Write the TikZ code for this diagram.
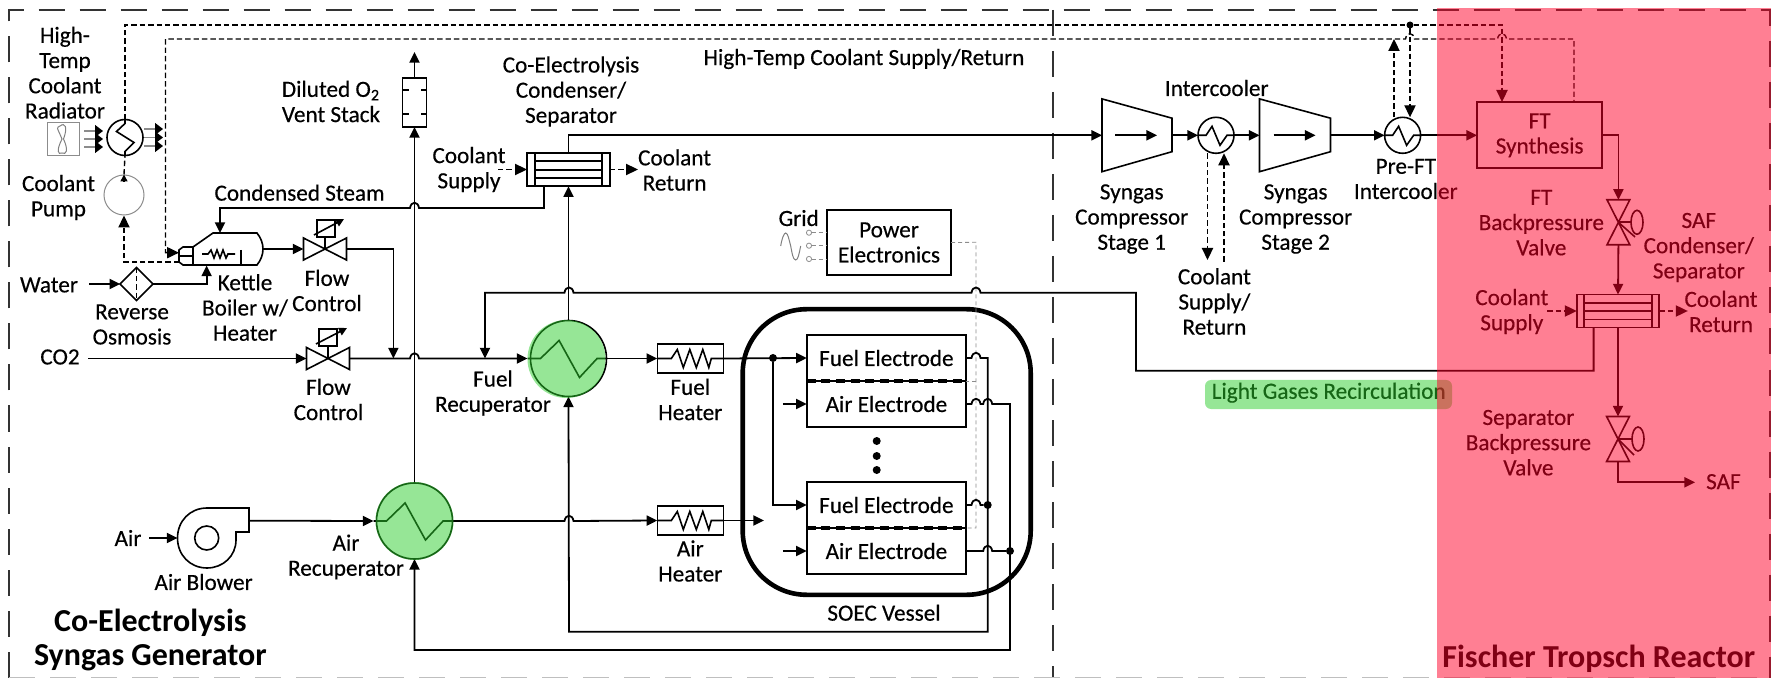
\documentclass[tikz,border=0pt]{standalone}
\usepackage{fontspec}
\setmainfont{Carlito}[UprightFeatures={RawFeature={embolden=0.4}}]
\usetikzlibrary{arrows.meta,calc,shapes.geometric}

\definecolor{ftred}{RGB}{255,0,40}
\definecolor{glowgreen}{RGB}{45,205,45}

% Bridge of a horizontal line over a crossing line
\def\hop#1#2{-- ({#1-4.5},#2) .. controls ({#1-3.5},{#2-7}) and ({#1+3.5},{#2-7}) .. ({#1+4.5},#2)}

\begin{document}
\begin{tikzpicture}[
    x=0.5pt, y=-0.5pt,
    % Define line styles
    pipe/.style={line width=0.9pt},
    flow/.style={->, >={Triangle[length=5.3pt,width=5pt]}, line width=0.9pt},
    cool/.style={line width=0.7pt, dash pattern=on 2.7pt off 1.5pt},
    coolflow/.style={->, >={Triangle[length=6pt,width=5.6pt]}, line width=0.7pt, dash pattern=on 2.7pt off 1.5pt},
    ctrl/.style={draw=black!45, line width=0.4pt, dash pattern=on 2pt off 1.5pt},
    fanflow/.style={-{Triangle[length=4pt,width=6pt,black]}, draw=black!45, line width=0.6pt},
    part/.style={line width=0.8pt},
    membrane/.style={line width=1.8pt, dash pattern=on 4.5pt off 2.8pt},
    frame/.style={draw=black!80, line width=0.8pt, dash pattern=on 13pt off 7.5pt},
    % Define node styles
    lbl/.style={align=center, inner sep=0pt, font=\fontsize{11.6}{12.6}\selectfont},
    title/.style={align=center, inner sep=0pt, font=\fontsize{16}{17.3}\selectfont\bfseries},
    boxnode/.style={draw, rectangle, line width=0.8pt, inner sep=0pt, outer sep=0pt, align=center, font=\fontsize{11.6}{12.6}\selectfont},
    hold/.style={rectangle, inner sep=0pt, outer sep=0pt},
    recup/.style={draw, circle, line width=0.8pt, minimum size=38pt, inner sep=0pt, outer sep=0pt},
    hxsmall/.style={draw, circle, line width=0.8pt, minimum size=18pt, inner sep=0pt, outer sep=0pt},
    glow/.style={circle, fill=glowgreen, opacity=0.5, minimum size=39pt, inner sep=0pt},
    joint/.style={circle, fill=black, minimum size=4pt, inner sep=0pt, outer sep=0pt},
    terminal/.style={draw=black!45, circle, line width=0.4pt, minimum size=2.6pt, inner sep=0pt, outer sep=0pt}
]
\useasboundingbox (0,0) rectangle (1771,678);

% Dashed zone frames
\draw[frame] (9,677.5) -- (9,10) -- (1770,10) -- (1770,677.5);
\draw[frame, draw=black!25] (9,677.5) -- (1770,677.5);
\draw[frame] (1053,10) -- (1053,677);

% Exchangers and rotating parts
\node[recup] (fuelrec) at (568.5,358.5) {};
\node[recup] (airrec) at (414.5,521) {};
\node[hxsmall] (radcool) at (125,137.5) {};
\node[hxsmall] (intercool) at (1216,135.3) {};
\node[hxsmall] (preft) at (1402.6,135.3) {};
\node[draw=black!45, circle, line width=0.5pt, minimum size=20pt, inner sep=0pt] (pump) at (124,195) {};
\node[draw=black!45, rectangle, line width=0.5pt, minimum width=16pt, minimum height=16.5pt, inner sep=0pt] (fan) at (63,139) {};
\node[draw, diamond, aspect=1, line width=0.8pt, minimum size=16.5pt, inner sep=0pt, outer sep=0pt] (ro) at (136.6,284) {};
\node[draw, circle, line width=0.8pt, minimum size=12pt, inner sep=0pt] (blower) at (206.7,538) {};

% Boxes
\node[boxnode, minimum width=12pt, minimum height=24.5pt] (stack) at (414.5,102.5) {};
\node[boxnode, minimum width=41.5pt, minimum height=16.7pt] (cond) at (568.5,169.5) {};
\node[boxnode, minimum width=41.2pt, minimum height=16.5pt] (safcond) at (1618,311) {};
\node[boxnode, minimum width=33pt, minimum height=14.7pt] (fuelheat) at (690.3,358.5) {};
\node[boxnode, minimum width=33pt, minimum height=14.7pt] (airheat) at (690.3,520.5) {};
\node[boxnode, minimum width=62.2pt, minimum height=32.5pt] (power) at (889,242.5) {Power\\Electronics};
\node[boxnode, minimum width=62.6pt, minimum height=33pt] (ftsyn) at (1539.6,135.3) {FT\\Synthesis};
\node[boxnode, minimum width=79.6pt, minimum height=23pt] (fuela) at (886.4,358) {Fuel Electrode};
\node[boxnode, minimum width=79.6pt, minimum height=23pt] (aira) at (886.4,404) {Air Electrode};
\node[boxnode, minimum width=79.6pt, minimum height=23pt] (fuelb) at (886.4,505) {Fuel Electrode};
\node[boxnode, minimum width=79.6pt, minimum height=23pt] (airb) at (886.4,551) {Air Electrode};
\node[draw, rectangle, line width=2.3pt, rounded corners=32pt, minimum width=144pt, minimum height=142.8pt] (vessel) at (886.7,452) {};

% Bodies that only hold anchors
\node[hold, minimum width=21.5pt, minimum height=11pt] (valvea) at (325,249) {};
\node[hold, minimum width=21.5pt, minimum height=11pt] (valveb) at (328,358.5) {};
\node[hold, minimum width=11.4pt, minimum height=22.5pt] (valvec) at (1618.4,222.3) {};
\node[hold, minimum width=11.4pt, minimum height=22.5pt] (valved) at (1618,439) {};
\node[hold, minimum width=35pt, minimum height=36.4pt] (compa) at (1137,135.3) {};
\node[hold, minimum width=35.5pt, minimum height=36.4pt] (compb) at (1295,135.3) {};

% Free line ends
\coordinate (ventout) at (414.5,52);
\coordinate (steamin) at (220,233);
\coordinate (steamout) at (544,186.2);
\coordinate (boilhot) at (179,252.7);
\coordinate (boilcold) at (179,262);
\coordinate (boilwater) at (206.6,265.5);
\coordinate (boilout) at (262,249);
\coordinate (mixa) at (393.4,358.5);
\coordinate (mixb) at (485,358.5);
\coordinate (lightout) at (1593.6,327.5);
\coordinate (blowout) at (249,520.7);
\coordinate (blowin) at (177.5,538);
\coordinate (airin) at (764,520.5);
\coordinate (icdown) at (1207.5,260);
\coordinate (icup) at (1224,261.7);
\coordinate (ftup) at (1394,39);
\coordinate (ftsupply) at (1502,102);
\coordinate (ftreturn) at (1574,102);
\coordinate (safout) at (1695,482.3);
\coordinate (waterin) at (89,284);
\coordinate (co2in) at (88,358.5);
\coordinate (airfeed) at (149,538);
\coordinate (supplyain) at (498,169.5);
\coordinate (returnaout) at (638,169.5);
\coordinate (supplybin) at (1547.4,311);
\coordinate (returnbout) at (1687.8,311);
\node[joint, minimum size=3.5pt] (coolsplit) at (1410,25) {};
\node[joint] (fueltap) at (773,358) {};
\node[joint] (fueljoin) at (987.7,505) {};
\node[joint] (airjoin) at (1010,551) {};
\node[terminal] (gridtop) at (809,232.7) {};
\node[terminal] (gridmid) at (809,245.7) {};
\node[terminal] (gridlow) at (809,259) {};

% Labels
\node[lbl] (radlabel) at (65,72.7) {High-\\Temp\\Coolant\\Radiator};
\node[lbl] (pumplabel) at (58.5,197.5) {Coolant\\Pump};
\node[lbl] (water) at (49,285) {Water};
\node[lbl] (rolabel) at (132,324.5) {Reverse\\Osmosis};
\node[lbl] (kettle) at (245,307.5) {Kettle\\Boiler w/\\Heater};
\node[lbl] (flowa) at (327,290.5) {Flow\\Control};
\node[lbl] (flowb) at (328.5,399.5) {Flow\\Control};
\node[lbl] (co2) at (60,357) {CO2};
\node[lbl] (airlabel) at (128,538) {Air};
\node[lbl] (blowlabel) at (203.6,582) {Air Blower};
\node[lbl] (airreclabel) at (346,557) {Air\\Recuperator};
\node[lbl] (fuelreclabel) at (493,393) {Fuel\\Recuperator};
\node[lbl] (ventlabel) at (331,101.5) {Diluted O\textsubscript{2}\\Vent Stack};
\node[lbl] (condlabel) at (571,91.5) {Co-Electrolysis\\Condenser/\\Separator};
\node[lbl] (steamlabel) at (299.6,192.7) {Condensed Steam};
\node[lbl] (supplya) at (469,169.5) {Coolant\\Supply};
\node[lbl] (returna) at (674.6,170) {Coolant\\Return};
\node[lbl] (hotlabel) at (864,59) {High-Temp Coolant Supply/Return};
\node[lbl] (gridlabel) at (798.7,218) {Grid};
\node[lbl] (fuelheatlabel) at (690.3,399.5) {Fuel\\Heater};
\node[lbl] (airheatlabel) at (690.3,561) {Air\\Heater};
\node[lbl] (vessellabel) at (884,612.7) {SOEC Vessel};
\node[lbl] (intlabel) at (1216.7,88) {Intercooler};
\node[lbl] (stagea) at (1131.7,219) {Syngas\\Compressor\\Stage 1};
\node[lbl] (stageb) at (1295.6,219) {Syngas\\Compressor\\Stage 2};
\node[lbl] (iclabel) at (1214.4,301.5) {Coolant\\Supply/\\Return};
\node[lbl] (preftlabel) at (1405.8,179) {Pre-FT\\Intercooler};
\node[lbl] (ftvalvelabel) at (1541.3,222.7) {FT\\Backpressure\\Valve};
\node[lbl] (safcondlabel) at (1698.8,247.5) {SAF\\Condenser/\\Separator};
\node[lbl] (supplyb) at (1511.8,311.5) {Coolant\\Supply};
\node[lbl] (returnb) at (1721,311.5) {Coolant\\Return};
\node[lbl] (sepvalvelabel) at (1528.4,442.7) {Separator\\Backpressure\\Valve};
\node[lbl] (saflabel) at (1723.4,481.7) {SAF};
\node[lbl] (lightlabel) at (1328.7,392.7) {Light Gases Recirculation};
\node[title] (genlabel) at (150.4,640) {Co-Electrolysis\\Syngas Generator};
\node[title] (ftlabel) at (1598.8,658.3) {Fischer Tropsch Reactor};

% Exchanger internals
\draw[part] ([xshift=-1.5pt]airrec.west) -- +(13,0) -- +(31.6,-18) -- +(52,19) -- +(69.6,0) -- (airrec.east);
\draw[part] ([xshift=-1.5pt]fuelrec.west) -- +(13,0) -- +(31.6,-18) -- +(52,19) -- +(69.6,0) -- (fuelrec.east);
\draw[part] (intercool.west) -- +(8,0) -- +(14,-9) -- +(22,10) -- +(29,0) -- (intercool.east);
\draw[part] (preft.west) -- +(8,0) -- +(14,-9) -- +(22,10) -- +(29,0) -- (preft.east);
\draw[part] (radcool.north) -- +(0,4) -- +(-8.5,12) -- +(9,23) -- +(0,32) -- (radcool.south);
\draw[draw=black!50, line width=0.5pt] (60,126) .. controls (65,122) and (68,127) .. (63.5,139) .. controls (69,151) and (66,155) .. (62,153) .. controls (58,155) and (56,151) .. (62,139) .. controls (57,127) and (56,128) .. (60,126);

% Radiator air flow
\draw[fanflow] (84,131) -- (103,131);
\draw[fanflow] (84,139) -- (103,139);
\draw[fanflow] (84,147) -- (103,147);
\draw[fanflow] (144,129) -- (163,129);
\draw[fanflow] (144,137.5) -- (163,137.5);
\draw[fanflow] (144,146) -- (163,146);

% Kettle boiler
\draw[part] (193,247) -- (213,233) -- (257,233) .. controls (265,243) and (265,255) .. (257,265) -- (193,265) -- cycle;
\draw[part] (193,247) -- (183,247) -- (179,250) -- (179,262) -- (183,265) -- (193,265);
\draw[part] (179,256) -- (193,256);
\draw[part] (241,250) -- (241,265);
\draw[part] (202,254) -- (208,254) -- (211,250) -- (214,258) -- (217,250) -- (220,258) -- (223,250) -- (226,258) -- (228,254) -- (235,254);

% Valves
\draw[part] (valvea.north west) -- (valvea.south east) -- (valvea.north east) -- (valvea.south west) -- cycle;
\draw[part] (valveb.north west) -- (valveb.south east) -- (valveb.north east) -- (valveb.south west) -- cycle;
\draw[part] (valvec.north west) -- (valvec.south east) -- (valvec.south west) -- (valvec.north east) -- cycle;
\draw[part] (valved.north west) -- (valved.south east) -- (valved.south west) -- (valved.north east) -- cycle;
\draw[part] (valvea.center) -- (325,237);
\draw[part] (317,220) rectangle (335,237);
\draw[part, -{Triangle[length=4pt,width=4pt]}] (314,235) -- (344,219);
\draw[part] (valveb.center) -- (328,346);
\draw[part] (319,329) rectangle (337,346);
\draw[part, -{Triangle[length=4pt,width=4pt]}] (316,344) -- (347,328);
\draw[part] (valvec.center) -- (1631,222.3);
\draw[part] (valvec.center) -- (1635,237);
\draw[part] (1637,222.3) ellipse (6 and 12);
\draw[part] (valved.center) -- (1633,439);
\draw[part] (valved.center) -- (1634,455);
\draw[part] (1638,439) ellipse (6 and 12);

% Compressors
\draw[part] (compa.north west) -- ($(compa.north east)+(0,19.3)$) -- ($(compa.south east)+(0,-20)$) -- (compa.south west) -- cycle;
\draw[part] (compb.north west) -- ($(compb.north east)+(0,19.3)$) -- ($(compb.south east)+(0,-20)$) -- (compb.south west) -- cycle;
\draw[flow] ($(compa.west)+(13,0)$) -- ($(compa.east)+(-15,0)$);
\draw[flow] ($(compb.west)+(14,0)$) -- ($(compb.east)+(-15,0)$);

% Blower
\draw[part] (236,532) -- (236,540) .. controls (236,556) and (223,568) .. (207,568) .. controls (190,568) and (177.5,555) .. (177.5,538) .. controls (177.5,521) and (190,508) .. (207,508) -- (249,508) -- (249,532) -- cycle;

% Stack and condenser internals
\draw[part] (stack.north west |- 0,90) -- +(6,0);
\draw[part] (stack.north east |- 0,90) -- +(-6,0);
\draw[part] (stack.north west |- 0,114) -- +(6,0);
\draw[part] (stack.north east |- 0,114) -- +(-6,0);
\draw[part] ($(cond.north west)+(8,0)$) -- ($(cond.south west)+(8,0)$);
\draw[part] ($(cond.north east)+(-8,0)$) -- ($(cond.south east)+(-8,0)$);
\draw[part] ($(cond.north west)+(8,8.5)$) -- ($(cond.north east)+(-8,8.5)$);
\draw[part] ($(cond.north west)+(8,17.5)$) -- ($(cond.north east)+(-8,17.5)$);
\draw[part] ($(cond.north west)+(8,25)$) -- ($(cond.north east)+(-8,25)$);
\draw[part] ($(safcond.north west)+(7,0)$) -- ($(safcond.south west)+(7,0)$);
\draw[part] ($(safcond.north east)+(-7,0)$) -- ($(safcond.south east)+(-7,0)$);
\draw[part] ($(safcond.north west)+(7,8.5)$) -- ($(safcond.north east)+(-7,8.5)$);
\draw[part] ($(safcond.north west)+(7,16.5)$) -- ($(safcond.north east)+(-7,16.5)$);
\draw[part] ($(safcond.north west)+(7,25)$) -- ($(safcond.north east)+(-7,25)$);

% Heater windings
\draw[part] (fuelheat.west) -- +(14,0) -- +(20,-9) -- +(26,9) -- +(32.5,-9) -- +(39,9) -- +(45.5,-9) -- +(51.5,9) -- +(54,0) -- (fuelheat.east);
\draw[part] (airheat.west) -- +(14,0) -- +(20,-9) -- +(26,9) -- +(32.5,-9) -- +(39,9) -- +(45.5,-9) -- +(51.5,9) -- +(54,0) -- (airheat.east);

% Membranes and stack dots
\draw[membrane] (fuela.south west) -- (fuela.south east);
\draw[membrane] (fuelb.south west) -- (fuelb.south east);
\node[joint] (dota) at (876.7,441) {};
\node[joint] (dotb) at (876.7,456) {};
\node[joint] (dotc) at (876.7,470) {};

% Grid and power wiring
\draw[draw=black!50, line width=0.5pt] (780.7,246) .. controls (782,238) and (784,233) .. (785.7,233) .. controls (788,233) and (789,240) .. (790.7,246) .. controls (792,253) and (793,260) .. (795.7,260) .. controls (798,260) and (799,254) .. (800.7,246);
\draw[ctrl] (gridtop) -- (gridtop -| power.west);
\draw[ctrl] (gridmid) -- (gridmid -| power.west);
\draw[ctrl] (gridlow) -- (gridlow -| power.west);
\draw[ctrl] (power.east) -- (976,242.3) -- (976,528) -- (fuelb.south east);
\draw[ctrl] (976,381) -- (fuela.south east);

% Coolant lines
\draw[cool] (radcool.north) -- (125,25) -- (coolsplit);
\draw[coolflow] (coolsplit) -- (1502,25) -- (ftsupply);
\draw[coolflow] (coolsplit) -- (coolsplit |- preft.north);
\draw[coolflow] (ftup |- preft.north) -- (ftup);
\draw[coolflow, <-] (boilhot) -- (165.5,252.7) -- (165.5,39) \hop{1410}{39} \hop{1502}{39} -- (1574,39) -- (ftreturn);
\draw[cool] (pump.north) -- (radcool.south);
\draw[coolflow, >={Triangle[length=3.5pt,width=3.5pt]}] ($(pump.north)+(0,7)$) -- (pump.north);
\draw[coolflow] (boilcold) -| (pump.south);
\draw[cool] (ro.north) -- (ro.south);
\draw[coolflow] (supplyain) -- (cond.west);
\draw[coolflow] (cond.east) -- (returnaout);
\draw[coolflow] (icdown |- intercool.south) -- (icdown);
\draw[coolflow] (icup) -- (icup |- intercool.south);
\draw[coolflow] (supplybin) -- (safcond.west);
\draw[coolflow] (safcond.east) -- (returnbout);

% Process lines
\draw[flow] (waterin) -- (ro.west);
\draw[flow] (ro.east) -| (boilwater);
\draw[flow] (boilout) -- (valvea.west);
\draw[flow] (valvea.east) -| (mixa);
\draw[flow] (co2in) -- (valveb.west);
\draw[flow] (valveb.east) \hop{414.5}{358.5} -- ([xshift=-1.5pt]fuelrec.west);
\draw[flow, <-] (steamin) -- (220,208) \hop{414.5}{208} -- (544,208) -- (steamout);
\draw[flow] (airrec.north) -- (stack.south);
\draw[flow] (stack.north) -- (ventout);
\draw[flow] (fuelrec.north) -- (cond.south);
\draw[flow] (cond.north) |- (compa.west);
\draw[flow] (compa.east) -- (intercool.west);
\draw[flow] (intercool.east) -- (compb.west);
\draw[flow] (compb.east) -- (preft.west);
\draw[flow] (preft.east) -- (ftsyn.west);
\draw[flow] (ftsyn.east) -| (valvec.north);
\draw[flow] (valvec.south) -- (safcond.north);
\draw[flow] (safcond.south) -- (valved.north);
\draw[flow] (valved.south) |- (safout);
\draw[flow, <-] (mixb) -- (485,292.7) \hop{569}{292.7} \hop{976}{292.7} -- (1136,292.7) -- (1136,370.7) -- (1593.6,370.7) -- (lightout);
\draw[flow] (airfeed) -- (blowin);
\draw[flow] (blowout) -- ([xshift=-1.5pt]airrec.west);
\draw[flow] (airrec.east) \hop{569}{521} -- (airheat.west);
\draw[flow] (airheat.east) -- (airin);
\draw[flow] (fuelrec.east) -- (fuelheat.west);
\draw[flow] (fuelheat.east) -- (fuela.west);
\draw[flow] (fueltap) |- (fuelb.west);
\draw[flow] ([xshift=-12pt]aira.west) -- (aira.west);
\draw[flow] ([xshift=-12pt]airb.west) -- (airb.west);
\draw[flow] (fuela.east) \hop{976}{358} -- (987.7,358) -- (987.7,631.7) -- (569,631.7) -- (fuelrec.south);
\draw[flow] (aira.east) \hop{976}{404} \hop{987.7}{404} -- (1010,404) -- (1010,650) -- (414.5,650) -- (airrec.south);
\draw[pipe] (fuelb.east) \hop{976}{505} -- (fueljoin);
\draw[pipe] (airb.east) \hop{987.7}{551} -- (airjoin);

% Highlights laid over the drawing
\node[glow] (fuelglow) at (566.5,359) {};
\node[glow] (airglow) at (414.5,521) {};
\fill[glowgreen, opacity=0.5, rounded corners=3pt] (1205,380) rectangle (1452,409);
\fill[ftred, opacity=0.5] (1437,8) rectangle (1771,678);

\end{tikzpicture}
\end{document}
